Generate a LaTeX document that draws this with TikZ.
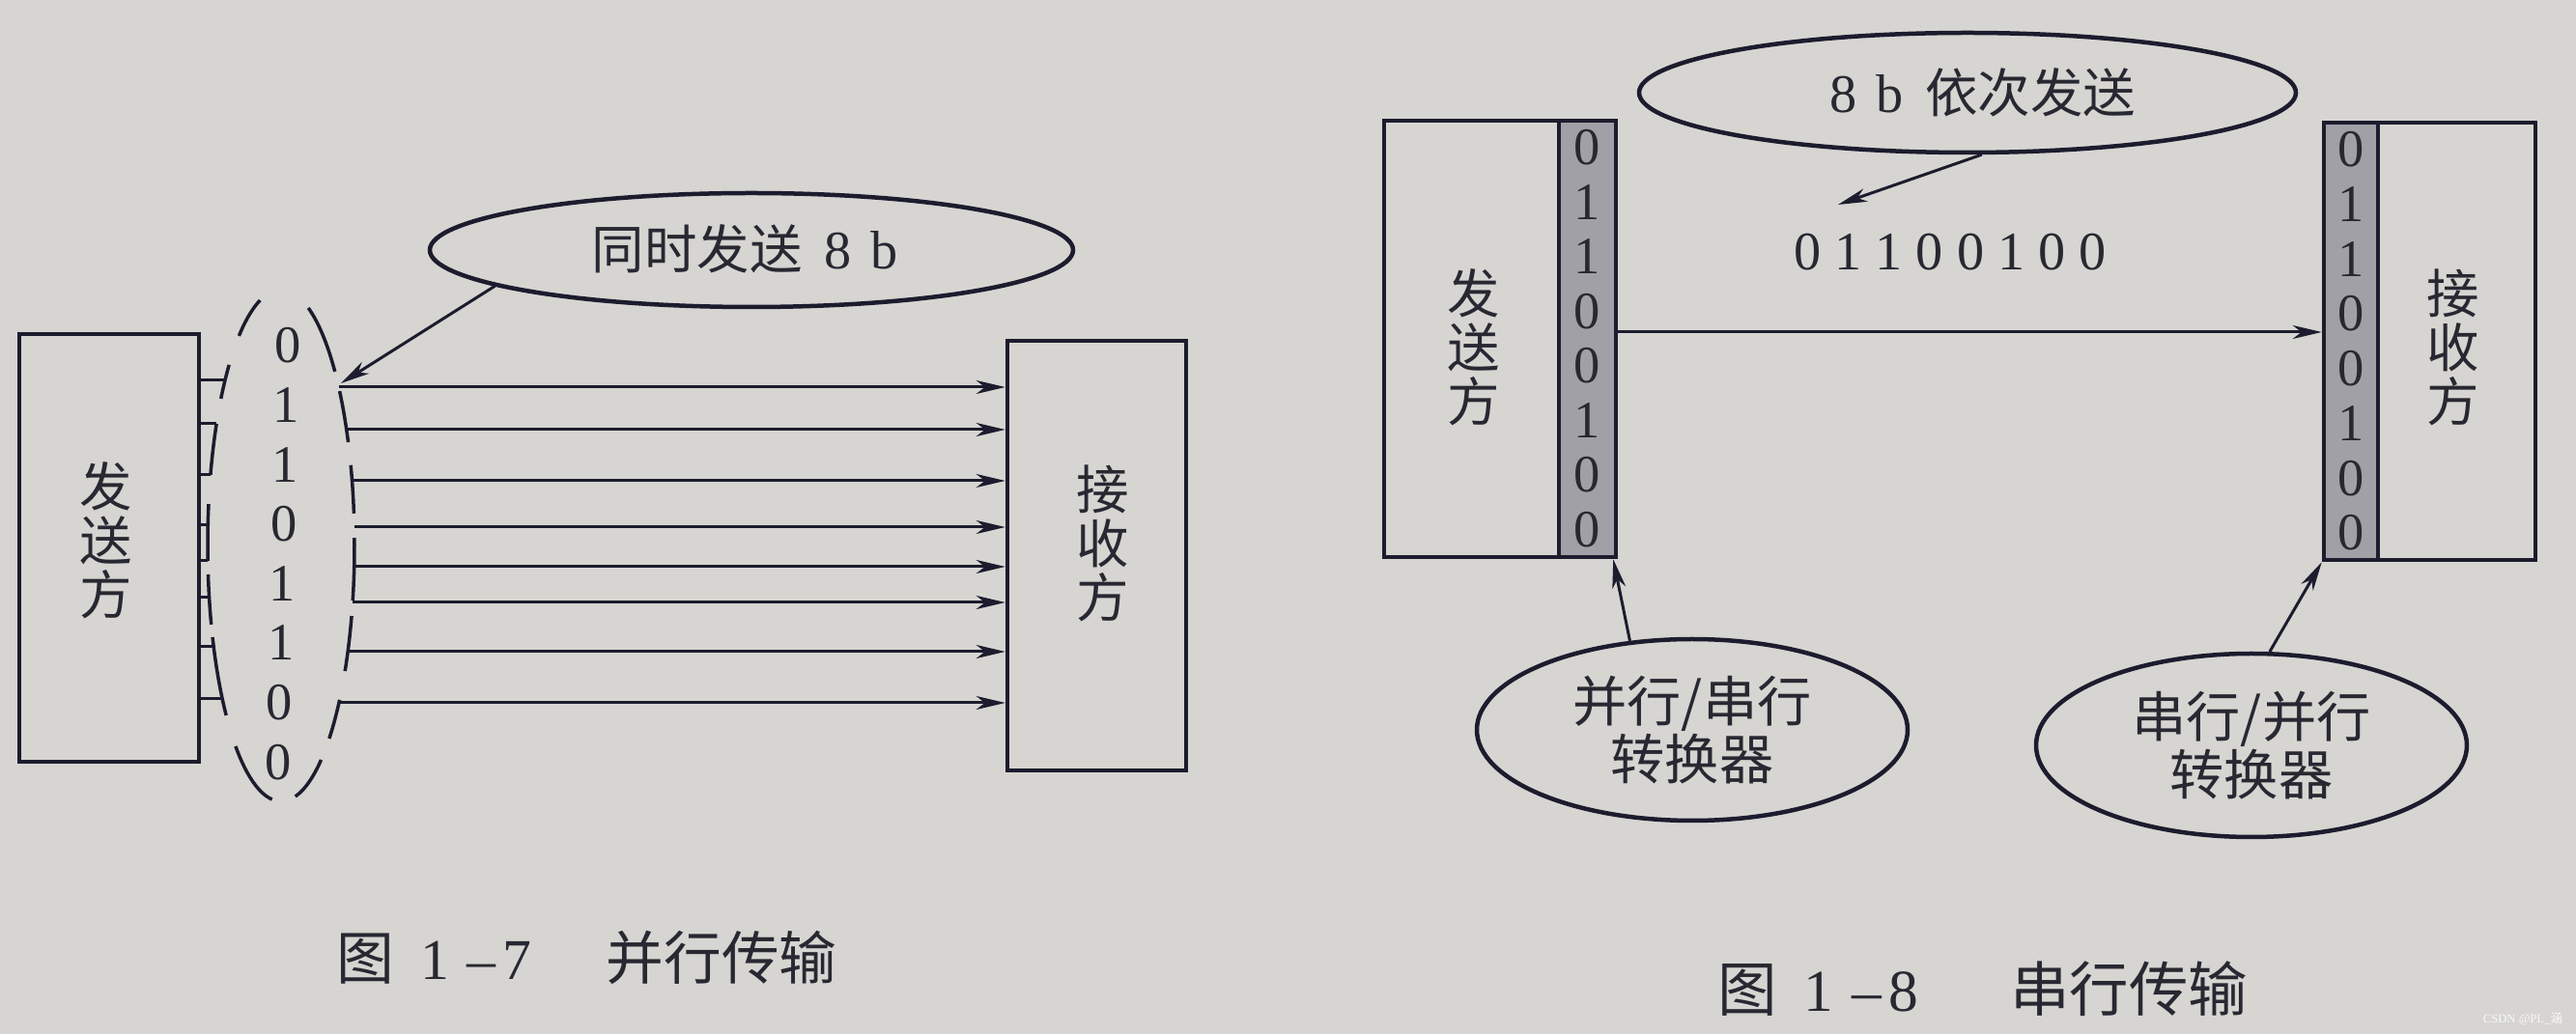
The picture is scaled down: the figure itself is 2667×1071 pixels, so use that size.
\documentclass[tikz,border=0pt]{standalone}
\usepackage{fontspec}
\setmainfont{Liberation Serif}
\newfontfamily\cjk{Noto Sans CJK SC}
\usetikzlibrary{shapes.geometric,arrows.meta}
\definecolor{paper}{RGB}{214,213,209}
\definecolor{ink}{RGB}{28,28,46}
\definecolor{txt}{RGB}{40,40,50}
\definecolor{stripc}{RGB}{160,160,166}
\newcommand\zhf{\cjk\fontsize{15.5}{16}\selectfont}
\newcommand\capzh{\cjk\fontsize{17}{18}\selectfont}
\newcommand\dsp{\hspace{0.25em}}
\begin{document}
\begin{tikzpicture}[x=0.1mm,y=0.1mm,
  box/.style={draw=ink,line width=0.45mm,inner sep=0pt},
  stripbox/.style={draw=ink,line width=0.45mm,fill=stripc,inner sep=0pt},
  lab/.style={ellipse,draw=ink,line width=0.45mm,inner sep=0pt},
  wire/.style={draw=ink,line width=0.3mm},
  arr/.style={draw=ink,line width=0.3mm,-{Stealth[length=3mm,width=1.4mm,inset=0.9mm]}},
  vtxt/.style={align=center,text=txt,inner sep=0pt,font=\zhf},
  ctxt/.style={align=center,text=txt,font=\cjk\fontsize{16}{17.2}\selectfont},
  bit/.style={text=txt,inner sep=0pt,font=\fontsize{15.5}{16}\selectfont},
  edash/.style={draw=ink,line width=0.35mm}
]
\fill[paper] (0,0) rectangle (2667,-1071);
\useasboundingbox (0,0) rectangle (2667,-1071);

% ================= parallel transmission =================
\node[box,minimum width=18.6mm,minimum height=44.3mm] (S1) at (113,-567.5) {};
\node[vtxt] (S1t) at (110,-560) {发\\送\\方};
\node[box,minimum width=18.5mm,minimum height=44.5mm] (R1) at (1135.5,-575.5) {};
\node[vtxt] (R1t) at (1142,-563) {接\\收\\方};

% bits
\foreach \b [count=\i from 0] in {0,1,1,0,1,1,0,0}
  \node[bit] (lb\i) at ({298-1.4*\i},{-358-61.6*\i}) {\b};

% dashed ellipse around the bits
\foreach \a/\e in {106.6/125,135.1/145,151.6/164,170.7/183.5,186.5/198,201/221.6,231.7/263,
                   42.8/68.2,23.8/37.1,7.2/18.3,-12.4/1.7,-29.4/-16,-49/-37.1,-78.8/-56.9}
  \draw[edash] plot[domain=\a:\e,samples=20,smooth] ({291+76*cos(\x)},{-565+265*sin(\x)});

% wires from sender to ellipse
\foreach \y/\x [count=\i] in {394/232.9,439/224.1,492/217.9,544/215.2,581/215.1,619/216.6,670/221.2,724/230.2}{
  \coordinate (wl\i) at (\x,-\y);
  \draw[wire] (S1.east |- wl\i) -- (wl\i);
}
% wires from ellipse to receiver
\foreach \y/\x [count=\i] in {401/350.7,445/358.8,498/364.5,546/366.8,587/366.7,624/365.1,675/360.1,728/350.9}{
  \coordinate (wr\i) at (\x,-\y);
  \draw[arr] (wr\i) -- (wr\i -| R1.west);
}

% label ellipse
\node[lab,minimum width=66.6mm,minimum height=11.8mm] (E1) at (778,-259) {};
\node[text=txt,font=\fontsize{16}{16}\selectfont] (E1t) at (771,-258) {{\zhf 同时发送}\hspace{0.4em}8\hspace{0.35em}b};
\coordinate (t1) at (353,-397);
\draw[arr] (E1.188) -- (t1);

\node[text=txt,anchor=west,inner sep=0pt,font=\fontsize{17}{18}\selectfont] (cap1) at (348,-992)
  {{\capzh 图}\hspace{0.45em}1\hspace{0.3em}–\hspace{0.12em}7\hspace{1.3em}{\capzh 并行传输}};

% ================= serial transmission =================
\node[box,minimum width=24mm,minimum height=45.2mm] (S2) at (1553,-351) {};
\node[stripbox,minimum width=5.9mm,minimum height=45.2mm] (Ss) at (1643.5,-351) {};
\node[vtxt] (S2t) at (1526,-360) {发\\送\\方};
\foreach \b [count=\i from 0] in {0,1,1,0,0,1,0,0}
  \node[bit] (sb\i) at (1643.5,{-153-56.5*\i}) {\b};

\node[box,minimum width=21.9mm,minimum height=45.3mm] (R2) at (2515.5,-353.5) {};
\node[stripbox,minimum width=5.6mm,minimum height=45.3mm] (Rs) at (2434,-353.5) {};
\node[vtxt] (R2t) at (2540,-360) {接\\收\\方};
\foreach \b [count=\i from 0] in {0,1,1,0,0,1,0,0}
  \node[bit] (rb\i) at (2434,{-155-56.7*\i}) {\b};

\coordinate (sl) at (0,-344);
\draw[arr] (Ss.east |- sl) -- (Rs.west |- sl);

\node[lab,minimum width=68mm,minimum height=12.4mm] (E2) at (2037,-96) {};
\node[text=txt,font=\fontsize{16}{16}\selectfont] (E2t) at (2053,-96) {8\hspace{0.35em}b\hspace{0.4em}{\zhf 依次发送}};
\node[bit,font=\fontsize{16}{16}\selectfont] (seq) at (2019,-261) {0\dsp1\dsp1\dsp0\dsp0\dsp1\dsp0\dsp0};
\coordinate (t2) at (1903,-212);
\draw[arr] (E2.283) -- (t2);

\node[lab,minimum width=44.6mm,minimum height=18.8mm,ctxt] (C1) at (1752,-756) {并行/串行\\转换器};
\node[lab,minimum width=44.6mm,minimum height=19mm,ctxt] (C2) at (2331,-772) {串行/并行\\转换器};
\draw[arr] (C1.125) -- ([xshift=-0.5mm]Ss.south east);
\draw[arr] (C2.79) -- (Rs.south west);

\node[text=txt,anchor=west,inner sep=0pt,font=\fontsize{17.5}{18}\selectfont] (cap2) at (1778,-1024)
  {{\cjk\fontsize{17.5}{18}\selectfont 图}\hspace{0.45em}1\hspace{0.3em}–\hspace{0.12em}8\hspace{1.55em}{\cjk\fontsize{17.5}{18}\selectfont 串行传输}};

\node[text=white!85!paper,font=\fontsize{3.6}{4}\selectfont] (wm) at (2612,-1055) {CSDN @PL\_{\cjk 涵}};
\end{tikzpicture}
\end{document}
